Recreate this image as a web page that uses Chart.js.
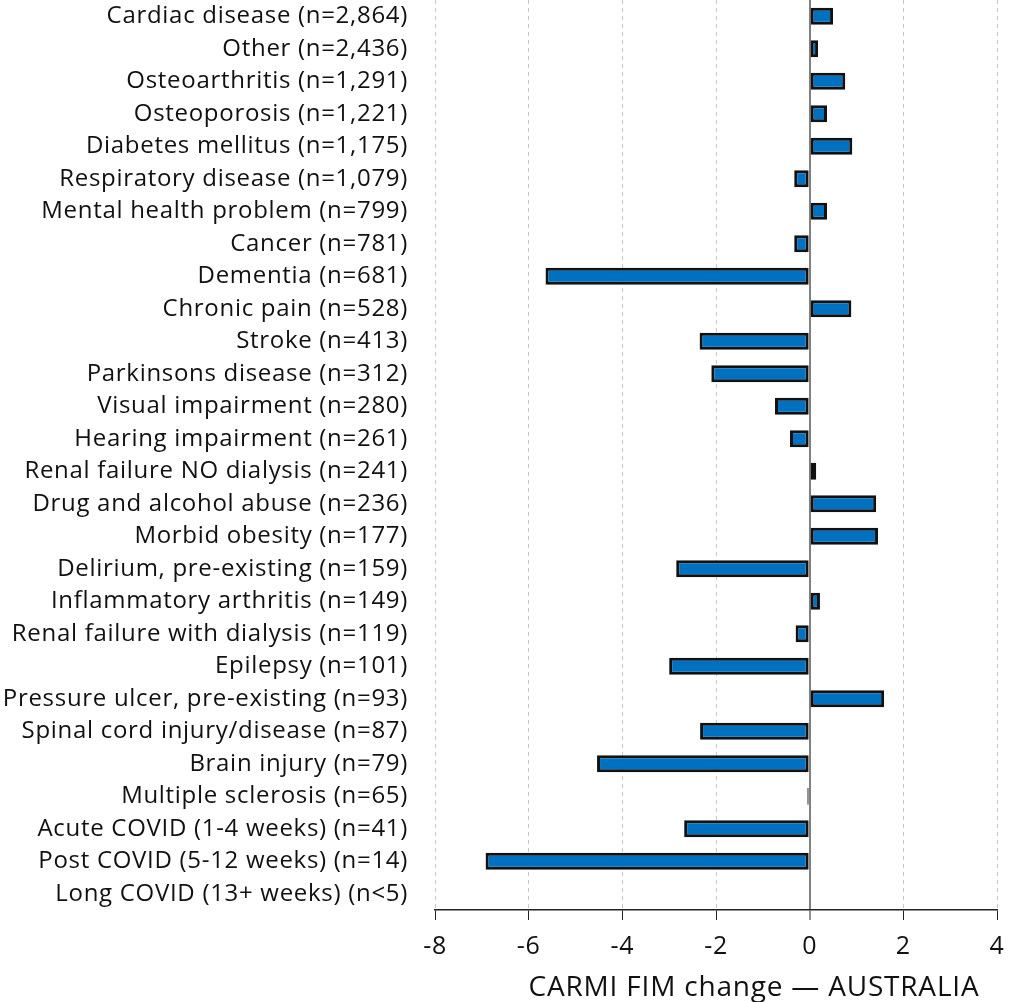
<!DOCTYPE html>
<html>
<head>
<meta charset="utf-8">
<script src="https://cdn.jsdelivr.net/npm/chart.js@4.4.1/dist/chart.umd.min.js"></script>
<style>
  html, body { margin: 0; padding: 0; background: #fff; }
  #wrap { width: 1009px; height: 1002px; }
</style>
</head>
<body>
<div id="wrap"><canvas id="chart"></canvas></div>
<script>
const categories = [
  'Cardiac disease (n=2,864)',
  'Other (n=2,436)',
  'Osteoarthritis (n=1,291)',
  'Osteoporosis (n=1,221)',
  'Diabetes mellitus (n=1,175)',
  'Respiratory disease (n=1,079)',
  'Mental health problem (n=799)',
  'Cancer (n=781)',
  'Dementia (n=681)',
  'Chronic pain (n=528)',
  'Stroke (n=413)',
  'Parkinsons disease (n=312)',
  'Visual impairment (n=280)',
  'Hearing impairment (n=261)',
  'Renal failure NO dialysis (n=241)',
  'Drug and alcohol abuse (n=236)',
  'Morbid obesity (n=177)',
  'Delirium, pre-existing (n=159)',
  'Inflammatory arthritis (n=149)',
  'Renal failure with dialysis (n=119)',
  'Epilepsy (n=101)',
  'Pressure ulcer, pre-existing (n=93)',
  'Spinal cord injury/disease (n=87)',
  'Brain injury (n=79)',
  'Multiple sclerosis (n=65)',
  'Acute COVID (1-4 weeks) (n=41)',
  'Post COVID (5-12 weeks) (n=14)',
  'Long COVID (13+ weeks) (n<5)'
];

const fimChange = [
  0.50, 0.18, 0.76, 0.37, 0.91, -0.33, 0.37, -0.33, -5.64, 0.89,
  -2.35, -2.10, -0.74, -0.42, 0.14, 1.42, 1.46, -2.85, 0.22, -0.30,
  -3.00, 1.59, -2.34, -4.54, -0.05, -2.68, -6.92, null
];

const xTicks = [-8, -6, -4, -2, 0, 2, 4];
const axisTitle = 'CARMI FIM change \u2014 AUSTRALIA';

const fontFamily = '"Open Sans", "Noto Sans", sans-serif';

// the original font is wider, so space letters out a bit
const spacingPlugin = {
  id: 'spacing',
  beforeLayout(chart) { chart.ctx.letterSpacing = '0.7px'; },
  beforeDraw(chart) { chart.ctx.letterSpacing = '0.7px'; }
};

// title drawn under the axis, shifted right like the original
const titlePlugin = {
  id: 'axisTitle',
  afterDraw(chart) {
    const ctx = chart.ctx;
    const x = chart.scales.x;
    ctx.save();
    ctx.letterSpacing = '0.8px';
    ctx.font = '28px ' + fontFamily;
    ctx.fillStyle = '#111';
    ctx.textAlign = 'center';
    ctx.textBaseline = 'middle';
    ctx.fillText(axisTitle, (x.left + x.right) / 2 + 38, 988);
    ctx.restore();
  }
};

new Chart(document.getElementById('chart'), {
  type: 'bar',
  data: {
    labels: categories,
    datasets: [{
      data: fimChange,
      backgroundColor: '#0070C0',
      borderColor: '#111',
      borderWidth: 3,
      borderSkipped: false,
      barPercentage: 0.52,
      categoryPercentage: 1.0
    }]
  },
  options: {
    indexAxis: 'y',
    responsive: true,
    maintainAspectRatio: false,
    animation: false,
    layout: { padding: { top: 0, right: 12, bottom: 28, left: 0 } },
    plugins: {
      legend: { display: false },
      tooltip: { enabled: false }
    },
    scales: {
      x: {
        min: -8,
        max: 4,
        afterBuildTicks(scale) {
          scale.ticks = xTicks.map(v => ({ value: v }));
        },
        afterFit(scale) {
          scale.paddingLeft = 0;
          scale.paddingRight = 0;
        },
        grid: {
          color: ctx => (ctx.tick && ctx.tick.value === 0) ? '#808080' : '#c8c8c8',
          lineWidth: ctx => (ctx.tick && ctx.tick.value === 0) ? 2 : 1,
          tickColor: '#222',
          tickLength: 10,
          tickWidth: 1
        },
        border: {
          display: true,
          color: '#222',
          width: 1.5,
          dash: ctx => (ctx.tick && ctx.tick.value === 0) ? [] : [4, 4]
        },
        ticks: {
          color: '#111',
          font: { family: fontFamily, size: 25 },
          padding: 12
        }
      },
      y: {
        grid: { display: false, drawTicks: false },
        border: { display: false },
        afterFit(scale) {
          scale.paddingTop = 0;
          scale.paddingBottom = 0;
          scale.width = 435;
        },
        ticks: {
          color: '#111',
          font: { family: fontFamily, size: 24 },
          padding: 27,
          autoSkip: false
        }
      }
    }
  },
  plugins: [spacingPlugin, titlePlugin]
});
</script>
</body>
</html>
